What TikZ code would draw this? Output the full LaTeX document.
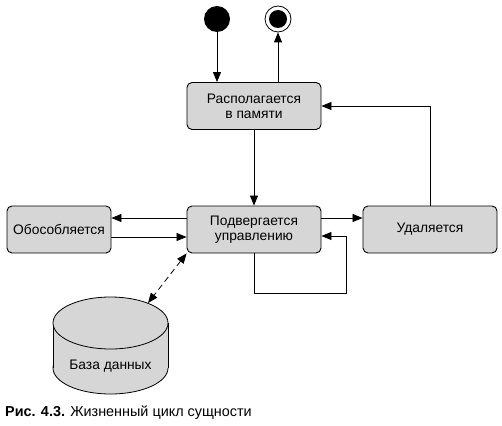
\documentclass[tikz,border=0pt]{standalone}
\usepackage{fontspec}
\setmainfont{Liberation Sans}
\usetikzlibrary{arrows.meta}
\definecolor{boxgray}{HTML}{D6D6D6}
\tikzset{
  state/.style={draw, rounded corners=5pt, fill=boxgray, line width=0.9pt,
    minimum height=47pt, align=center, inner sep=2pt},
  flow/.style={line width=0.8pt, -{Triangle[length=10pt,width=8pt]}},
}
\begin{document}
\begin{tikzpicture}[x=1pt, y=-1pt, font=\fontsize{13.8}{15}\selectfont]
  \useasboundingbox (0,0) rectangle (502,425);
  % states
  \node[circle, fill=black, minimum size=26pt, inner sep=0pt] (start) at (217,19) {};
  \node[circle, draw, line width=0.8pt, fill=white, minimum size=26pt, inner sep=0pt,
        path picture={\fill[black] (path picture bounding box.center) circle (9pt);}] (stop) at (278,19) {};
  \node[state, minimum width=134pt] (mem) at (254,106) {Располагается\\в памяти};
  \node[state, minimum width=134pt] (ctrl) at (254,229.5) {Подвергается\\управлению};
  \node[state, minimum width=104pt] (iso) at (59,229.5) {Обособляется};
  \node[state, minimum width=134pt] (del) at (430,229.5) {Удаляется};
  % database
  \fill[boxgray, draw=black, line width=0.8pt] (110.5,368) ellipse (57.5 and 26);
  \fill[boxgray] (53,323) rectangle (168,368);
  \draw[line width=0.8pt] (53,323) -- (53,368) (168,323) -- (168,368);
  \filldraw[fill=boxgray, line width=0.8pt] (110.5,323) ellipse (57.5 and 26);
  \node (db) at (110.5,366) {База данных};
  \coordinate (dbtop) at (148,303);
  % transitions
  \draw[flow] (start) -- (start |- mem.north);
  \draw[flow] (mem.north -| stop) -- (stop);
  \draw[flow] (mem) -- (ctrl);
  \draw[flow] ([yshift=11.5pt]ctrl.west) -- ([yshift=11.5pt]iso.east);
  \draw[flow] ([yshift=-7.5pt]iso.east) -- ([yshift=-7.5pt]ctrl.west);
  \draw[flow] ([yshift=11.5pt]ctrl.east) -- ([yshift=11.5pt]del.west);
  \draw[flow] (del.north) |- (mem.east);
  \draw[flow] (ctrl.south) -- ++(0,40) -- ++(92,0) |- ([yshift=-6.5pt]ctrl.east);
  \draw[line width=0.8pt, dash pattern=on 6pt off 4pt,
        {Triangle[length=10pt,width=8pt]}-{Triangle[length=10pt,width=8pt]}]
    (ctrl.south west) -- (dbtop);
  % caption
  \node[anchor=west, inner sep=0pt, font=\fontsize{14.4}{16}\selectfont] (caption) at (5,413)
    {\textbf{Рис. 4.3.} Жизненный цикл сущности};
\end{tikzpicture}
\end{document}
